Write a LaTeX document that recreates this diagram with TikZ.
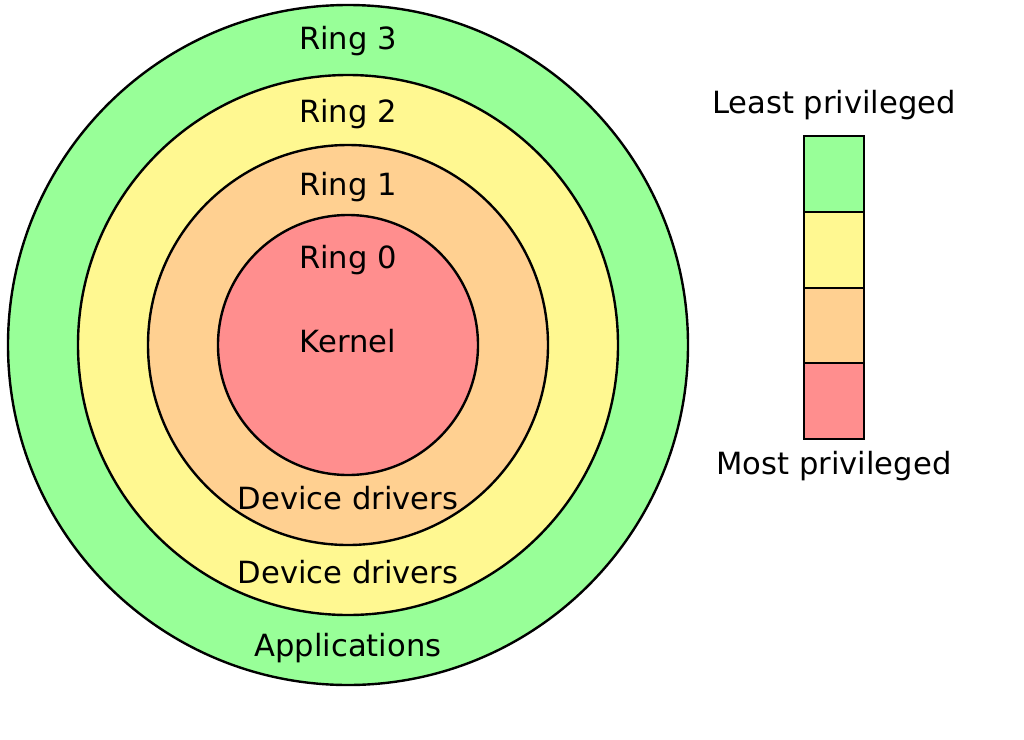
\documentclass[tikz,border=0pt]{standalone}
\usepackage{fontspec}
\setmainfont{DejaVu Sans}
\definecolor{rthree}{RGB}{152,255,152}
\definecolor{rtwo}{RGB}{255,248,145}
\definecolor{rone}{RGB}{255,208,145}
\definecolor{rzero}{RGB}{255,142,142}
\tikzset{
  ring/.style={circle, draw=black, line width=2.4pt, inner sep=0pt},
  lbox/.style={rectangle, draw=black, line width=2.2pt, minimum width=60pt, minimum height=75.75pt, inner sep=0pt},
  lbl/.style={anchor=base, inner sep=0pt, font=\fontsize{30.6}{36}\selectfont}
}
\begin{document}
\begin{tikzpicture}[x=1pt,y=-1pt]
\useasboundingbox (0,0) rectangle (1024,739);
\fill[white] (0,0) rectangle (1024,739);
\node[ring, fill=rthree, minimum size=680pt] (r3) at (348,345) {};
\node[ring, fill=rtwo, minimum size=540pt] (r2) at (348,345) {};
\node[ring, fill=rone, minimum size=400pt] (r1) at (348,345) {};
\node[ring, fill=rzero, minimum size=260pt] (r0) at (348,345) {};
\node[lbl] (t3) at (348,49.5) {Ring 3};
\node[lbl] (t2) at (348,122.5) {Ring 2};
\node[lbl] (t1) at (348,195.5) {Ring 1};
\node[lbl] (t0) at (348,268.5) {Ring 0};
\node[lbl] (kern) at (348,352.5) {Kernel};
\node[lbl] (dd1) at (348,509.5) {Device drivers};
\node[lbl] (dd2) at (348,583.5) {Device drivers};
\node[lbl] (apps) at (348,656.5) {Applications};
\node[lbox, fill=rthree] (b3) at (834,174) {};
\node[lbox, fill=rtwo] (b2) at (834,250) {};
\node[lbox, fill=rone] (b1) at (834,325.5) {};
\node[lbox, fill=rzero] (b0) at (834,401) {};
\node[lbl] (least) at (834,113.5) {Least privileged};
\node[lbl] (most) at (834,474.5) {Most privileged};
\end{tikzpicture}
\end{document}
